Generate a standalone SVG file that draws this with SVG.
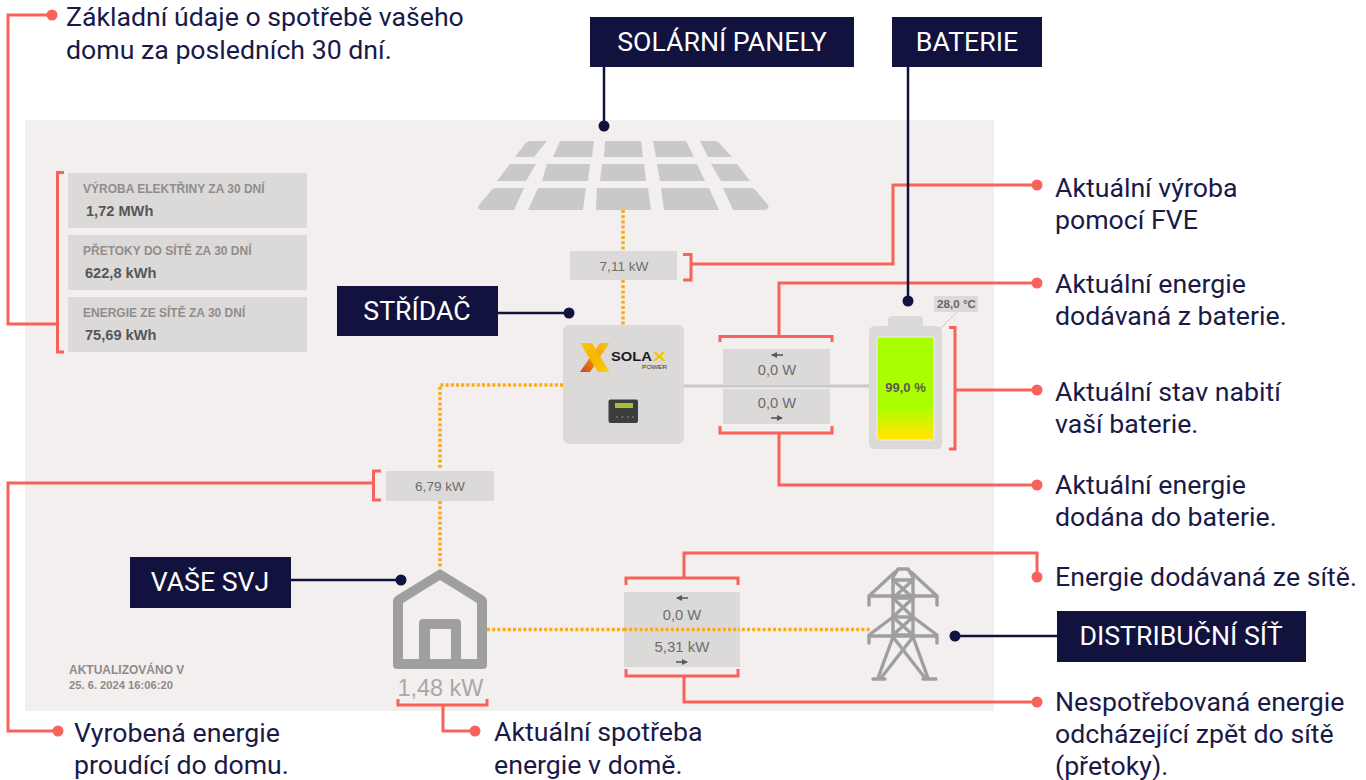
<svg xmlns="http://www.w3.org/2000/svg" width="1366" height="780" viewBox="0 0 1366 780">
<style>
.note{font-family:Roboto,"Liberation Sans",sans-serif;font-size:26.7px;fill:#1a1a48}
.tag{font-family:Roboto,"Liberation Sans",sans-serif;font-size:26.7px;fill:#fff;text-anchor:middle}
.navy{fill:#12123f}
.cell{fill:#dcd9d9}
.pv{fill:#c9c9c9}
.val{font-family:"Liberation Sans",sans-serif;font-size:14.700px;fill:#6d6d6d;text-anchor:middle}
.lab{font-family:"Liberation Sans",sans-serif;font-size:12px;font-weight:700;fill:#918c8c}
.big{font-family:"Liberation Sans",sans-serif;font-size:14.600px;font-weight:700;fill:#565656}
.red{fill:none;stroke:#f8625a;stroke-width:3}
.dark{fill:none;stroke:#12123f;stroke-width:2.500}
.flow{fill:none;stroke:#f9ab1a;stroke-width:3.500;stroke-dasharray:3 2.200}
.rd{fill:#f8625a}
.nd{fill:#12123f}
.arr{fill:none;stroke:#5a5a5a;stroke-width:1.600}
.gr{fill:#9f9f9f}
</style>
<defs>
<linearGradient id="charge" x1="0" y1="0" x2="0" y2="1"><stop offset="0.68" stop-color="#aaff00"/><stop offset="0.96" stop-color="#ffe600"/></linearGradient>
<linearGradient id="xa" x1="0" y1="0" x2="1" y2="1"><stop offset="0" stop-color="#f9c80e"/><stop offset="0.5" stop-color="#f7b500"/><stop offset="1" stop-color="#f9d008"/></linearGradient>
<linearGradient id="xb" x1="1" y1="0" x2="0" y2="1"><stop offset="0" stop-color="#f9c80e"/><stop offset="0.5" stop-color="#f29a10"/><stop offset="1" stop-color="#c8431e"/></linearGradient>
<marker id="ah" markerWidth="7" markerHeight="7" refX="5" refY="3" orient="auto" markerUnits="userSpaceOnUse"><path d="M0 0L6 3L0 6Z" fill="#5a5a5a"/></marker>
</defs>
<rect width="1366" height="780" fill="#fff"/>
<rect id="panel" x="25" y="120" width="969" height="591" fill="#f2efee"/>

<g id="connectors">
<path class="flow" d="M623 210V251M623 280V325M563 385H440V470M440 501V568M487 629.500H870"/>
<path class="red" d="M683 254.500H691V280H683M691 264H893V185H1037"/>
<path class="red" d="M720 342V336.500H832V342M779 336V283H1037"/>
<path class="red" d="M720 426V433H832V426M779 433V485H1037"/>
<path class="red" d="M949 327.500H955V449H949M955 390H1037"/>
<path class="red" d="M626 585V578H738V585M684 578V553H1037V577"/>
<path class="red" d="M626 669V676H738V669M684 676V702H1037"/>
<path class="red" d="M398 699V705H487V699M443 705V731H475"/>
<path class="red" d="M64 172.500H57.500V352H64M57 324H8V15H52"/>
<path class="red" d="M381 471H373.500V500H381M373 483H8V731H58"/>
<path class="dark" d="M604 67V126M908 67V301M498 313H569M291 580H401M955 636H1057"/>
<g class="rd"><circle cx="52" cy="15" r="5.500"/><circle cx="1037" cy="185" r="5.500"/><circle cx="1037" cy="283" r="5.500"/><circle cx="1037" cy="390" r="5.500"/><circle cx="1037" cy="485" r="5.500"/><circle cx="1037" cy="577" r="5.500"/><circle cx="1037" cy="702" r="5.500"/><circle cx="475" cy="731" r="5.500"/><circle cx="58" cy="731" r="5.500"/></g>
<g class="nd"><circle cx="604" cy="126" r="5.500"/><circle cx="908" cy="301" r="5.500"/><circle cx="569" cy="313" r="5.500"/><circle cx="401" cy="580" r="5.500"/><circle cx="955" cy="636" r="5.500"/></g>
</g>

<g id="solar-panels" class="pv">
<path d="M531 141H547L534 157H515L524 145Q527 141 531 141Z"/>
<path d="M560 141H594L592 157H553Z"/>
<path d="M605 141H641L643 157H604Z"/>
<path d="M653 141H686L694 157H656Z"/>
<path d="M700 141H714Q718 141 721 145L732 157H708Z"/>
<path d="M510 164H536L526 181H497Z"/>
<path d="M547 164H590L588 181H542Z"/>
<path d="M602 164H644L646 181H600Z"/>
<path d="M657 164H697L705 181H660Z"/>
<path d="M711 164H737L750 181H721Z"/>
<path d="M496 188H524L514 210H483Q476 210 479 205L490 192Q492 188 496 188Z"/>
<path d="M538 188H586L583 210H528Z"/>
<path d="M597 188H648L651 210H596Z"/>
<path d="M661 188H709L719 210H664Z"/>
<path d="M723 188H751Q754 188 757 192L768 205Q770 210 763 210H733Z"/>
</g>

<g id="inverter">
<rect class="cell" x="563" y="325" width="121" height="119" rx="6"/>
<path d="M600 343H609.500L590 372H580Z" fill="url(#xb)"/>
<path d="M580 343H592L609.500 372H598Z" fill="url(#xa)"/>
<text x="611" y="361" textLength="41" lengthAdjust="spacingAndGlyphs" font-family="'Liberation Sans',sans-serif" font-size="13px" font-weight="700" fill="#1a1a1a">SOLA</text>
<text x="653" y="361" textLength="13" lengthAdjust="spacingAndGlyphs" font-family="'Liberation Sans',sans-serif" font-size="13px" font-weight="700" fill="#f5c400">X</text>
<text x="642" y="368.500" textLength="25" lengthAdjust="spacingAndGlyphs" font-family="'Liberation Sans',sans-serif" font-size="5.500px" fill="#333">POWER</text>
<rect x="608.500" y="399.500" width="29.500" height="23.500" rx="2" fill="#3d3d3b"/>
<rect x="615" y="403" width="18" height="5" fill="#9cc13f"/>
<g fill="#9a9a96"><circle cx="617" cy="417" r=".8"/><circle cx="622.500" cy="417" r=".8"/><circle cx="628" cy="417" r=".8"/><circle cx="633" cy="417" r=".8"/></g>
</g>

<g id="battery">
<path class="cell" d="M888 326V320Q888 316 892 316H919Q923 316 923 320V326H936Q942 326 942 332V443Q942 449 936 449H875Q869 449 869 443V332Q869 326 875 326Z"/>
<rect x="877" y="337" width="57" height="103" rx="2" fill="url(#charge)" stroke="#f2efee" stroke-width="1"/>
<text x="905.500" y="392" font-family="'Liberation Sans',sans-serif" font-size="13px" font-weight="700" fill="#5a5a50" text-anchor="middle">99,0 %</text>
<path d="M957 312L937 332" stroke="#c8c8c8" stroke-width="1"/>
<rect class="cell" x="934" y="296" width="44" height="16"/>
<text x="956.500" y="308" font-family="'Liberation Sans',sans-serif" font-size="11.600px" font-weight="700" fill="#666" text-anchor="middle">28,0 °C</text>
</g>

<g id="house">
<path class="gr" fill-rule="evenodd" d="M440 569L484 596Q487 598 487 602V665Q487 669 483 669H397Q393 669 393 665V602Q393 598 396 596ZM440 580L403 603V659H419V623Q419 619 423 619H457Q461 619 461 623V659H477V603ZM430 629V659H451V629Z"/>
<text x="440.500" y="696" font-family="'Liberation Sans',sans-serif" font-size="23.400px" fill="#a8a8a8" text-anchor="middle">1,48 kW</text>
</g>

<g id="tower" fill="none" stroke="#9f9f9f" stroke-width="3.400" stroke-linecap="round" stroke-linejoin="round">
<path d="M893 637V577L898 569H908L913 577V637"/>
<path d="M893 580H913M893 598H913M893 617H913M893 635H913"/>
<path d="M893 580L913 598M913 580L893 598M893 598L913 617M913 598L893 617M893 617L913 635M913 617L893 635"/>
<path d="M895 572L869 596V605M911 572L937 596V605M869 596H937"/>
<path d="M893 617L869 635V643M913 617L937 635V643M869 636H937"/>
<path d="M893 637L878 678M913 637L928 678M893 637L925 678M913 637L881 678M873 679H885M923 679H936"/>
</g>

<g id="solar-value"><rect class="cell" x="570" y="251" width="107" height="29"/><text class="val" x="624" y="271" style="font-size:13.600px">7,11 kW</text></g>
<g id="house-value"><rect class="cell" x="386" y="471" width="108" height="30"/><text class="val" x="440" y="491" style="font-size:13.600px">6,79 kW</text></g>

<g id="battery-flow">
<rect class="cell" x="723" y="349" width="107" height="35"/>
<rect class="cell" x="723" y="389" width="107" height="35"/>
<path d="M684 386H869" fill="none" stroke="#c8c8c8" stroke-width="3"/>
<path class="arr" marker-end="url(#ah)" d="M783 355H772"/>
<text class="val" x="777" y="375">0,0 W</text>
<text class="val" x="777" y="408">0,0 W</text>
<path class="arr" marker-end="url(#ah)" d="M771 418H782"/>
</g>

<g id="grid-flow">
<rect class="cell" x="624" y="592" width="116" height="75"/>
<path class="flow" d="M624 629.500H740"/>
<path class="arr" marker-end="url(#ah)" d="M688 598H677"/>
<text class="val" x="682" y="620">0,0 W</text>
<text class="val" x="682" y="652" style="font-size:15px">5,31 kW</text>
<path class="arr" marker-end="url(#ah)" d="M676 662H687"/>
</g>

<g id="stats">
<rect class="cell" x="68" y="173" width="239" height="55"/>
<text class="lab" x="83" y="193">VÝROBA ELEKTŘINY ZA 30 DNÍ</text>
<text class="big" x="86" y="216">1,72 MWh</text>
<rect class="cell" x="68" y="235" width="239" height="55"/>
<text class="lab" x="83" y="255">PŘETOKY DO SÍTĚ ZA 30 DNÍ</text>
<text class="big" x="85" y="278">622,8 kWh</text>
<rect class="cell" x="68" y="297" width="239" height="55"/>
<text class="lab" x="83" y="317">ENERGIE ZE SÍTĚ ZA 30 DNÍ</text>
<text class="big" x="85" y="340">75,69 kWh</text>
</g>

<g id="updated">
<text x="69" y="674" font-family="'Liberation Sans',sans-serif" font-size="12px" font-weight="700" fill="#8f8a8a">AKTUALIZOVÁNO V</text>
<text x="69" y="689" font-family="'Liberation Sans',sans-serif" font-size="11.200px" font-weight="700" fill="#8f8a8a">25. 6. 2024 16:06:20</text>
</g>

<g id="label-solar"><rect class="navy" x="590" y="17" width="264" height="50"/><text class="tag" x="722" y="51">SOLÁRNÍ PANELY</text></g>
<g id="label-battery"><rect class="navy" x="892" y="17" width="150" height="50"/><text class="tag" x="967" y="51">BATERIE</text></g>
<g id="label-inverter"><rect class="navy" x="337" y="286" width="161" height="50"/><text class="tag" x="417" y="320">STŘÍDAČ</text></g>
<g id="label-home"><rect class="navy" x="130" y="557" width="161" height="51"/><text class="tag" x="210" y="591">VAŠE SVJ</text></g>
<g id="label-grid"><rect class="navy" x="1057" y="611" width="249" height="51"/><text class="tag" x="1181" y="645">DISTRIBUČNÍ SÍŤ</text></g>

<g id="notes">
<text class="note" x="66" y="26">Základní údaje o spotřebě vašeho</text>
<text class="note" x="66" y="59">domu za posledních 30 dní.</text>
<text class="note" x="1055" y="197">Aktuální výroba</text>
<text class="note" x="1055" y="229">pomocí FVE</text>
<text class="note" x="1055" y="293">Aktuální energie</text>
<text class="note" x="1055" y="325">dodávaná z baterie.</text>
<text class="note" x="1055" y="401">Aktuální stav nabití</text>
<text class="note" x="1055" y="433">vaší baterie.</text>
<text class="note" x="1055" y="494">Aktuální energie</text>
<text class="note" x="1055" y="526">dodána do baterie.</text>
<text class="note" x="1055" y="586">Energie dodávaná ze sítě.</text>
<text class="note" x="1055" y="711">Nespotřebovaná energie</text>
<text class="note" x="1055" y="743">odcházející zpět do sítě</text>
<text class="note" x="1055" y="775">(přetoky).</text>
<text class="note" x="74" y="742">Vyrobená energie</text>
<text class="note" x="74" y="774">proudící do domu.</text>
<text class="note" x="494" y="741">Aktuální spotřeba</text>
<text class="note" x="494" y="774">energie v domě.</text>
</g>
</svg>
